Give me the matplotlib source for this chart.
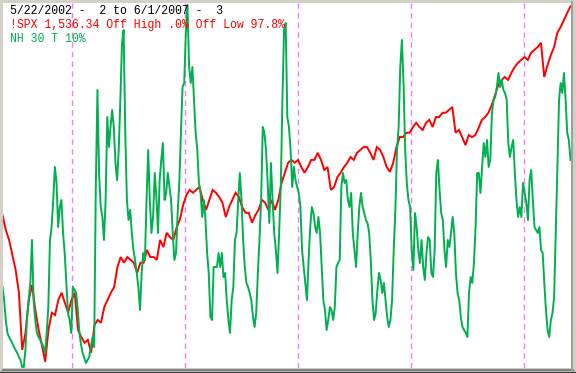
import matplotlib
matplotlib.use("Agg")
import matplotlib.pyplot as plt
import pandas as pd
from matplotlib.lines import Line2D

# ---- data ----
start_date = "2002-05-22"
end_date = "2007-06-01"
year_marks = ["2003-01-01", "2004-01-01", "2005-01-01", "2006-01-01", "2007-01-01"]

spx = [
    1098, 1067, 1046, 1014, 983, 935, 815, 851, 920, 951, 899, 857, 825, 790, 857, 893, 888, 920, 935, 914, 893,
    920, 935, 857, 842, 830, 836, 809, 867, 878, 872, 905, 920, 935, 947, 989, 1010, 998, 1010, 1004, 998, 977, 998,
    998, 1025, 1010, 1010, 1004, 1046, 1031, 1061, 1052, 1046, 1071, 1088, 1119, 1140, 1151, 1145, 1151, 1157, 1130, 1109, 1130, 1151,
    1145, 1136, 1124, 1094, 1115, 1130, 1145, 1136, 1115, 1103, 1103, 1082, 1098, 1109, 1130, 1124, 1109, 1130, 1109, 1130, 1166, 1187,
    1208, 1214, 1208, 1214, 1199, 1187, 1199, 1214, 1214, 1229, 1214, 1193, 1199, 1151, 1157, 1178, 1187, 1199, 1208, 1220, 1214, 1229,
    1235, 1241, 1241, 1229, 1214, 1241, 1235, 1220, 1199, 1189, 1208, 1241, 1262, 1262, 1271, 1271, 1283, 1292, 1283, 1277, 1292, 1298,
    1283, 1304, 1304, 1313, 1313, 1319, 1325, 1271, 1277, 1262, 1245, 1266, 1262, 1266, 1281, 1298, 1304, 1313, 1329, 1350, 1371, 1382,
    1388, 1382, 1397, 1409, 1418, 1424, 1430, 1424, 1439, 1445, 1451, 1460, 1388, 1413, 1434, 1451, 1481, 1493, 1508, 1523, 1536.34,
]

nh = [
    81, 68, 48, 35, 31, 28, 25, 21, 18, 15, 11, 8, 1, 1, 18, 51, 68, 85, 128, 68, 48, 35, 31, 28, 25, 21, 15, 35, 61, 128,
    141, 168, 201, 185, 141, 161, 168, 135, 115, 85, 55, 48, 35,
    81, 78, 75, 58, 35, 23, 15, 10, 5, 8, 11, 21, 31, 21, 181, 278, 195, 161, 151, 128, 168, 251, 221, 241, 258, 241, 205, 188,
    218, 268, 325, 338, 235, 168, 148, 158, 135, 118, 108, 95, 81, 58, 95, 115,
    108, 168, 218, 168, 135, 151, 195, 171, 135, 188, 208, 225, 168, 175, 195, 181, 168, 135, 108, 115, 155, 185, 235, 281, 285, 335,
    363, 301, 285, 301, 268, 235, 218, 185, 175, 151, 168, 148, 115, 95, 51, 48, 101, 101,
    101, 115, 101, 115, 91, 95, 68, 48, 35, 68, 81, 128, 135, 168, 195, 168, 128, 101, 85, 81, 75, 68, 51, 41, 55, 95, 128, 168,
    241, 235, 218, 185, 145, 205, 168, 135, 118, 95, 135, 181, 268, 338, 345, 251,
    241, 218, 181, 201, 188, 181, 175, 161, 118, 101, 85, 68, 108, 141, 161, 155, 141, 135, 151, 135, 101, 68, 58, 38, 48, 61, 58, 48,
    61, 101, 105, 108, 181, 195, 185, 188, 168, 161, 175, 135, 118, 101, 135, 161,
    175, 161, 155, 148, 145, 135, 108, 68, 48, 55, 78, 95, 88, 75, 85, 68, 51, 41, 48, 68, 118, 158, 218, 241, 301, 328, 285, 218,
    185, 168, 161, 118, 98, 155, 141, 118, 105, 128, 101, 88, 115, 131, 128, 95,
    91, 118, 195, 208, 178, 155, 148, 118, 101, 128, 121, 135, 151, 135, 95, 75, 68, 51, 41, 38, 35, 31, 75, 91, 85, 105, 141, 195,
    195, 175, 201, 225, 211, 228, 201, 208, 255, 268, 271, 281, 295, 281, 288, 278,
    275, 268, 225, 211, 221, 228, 195, 168, 151, 161, 151, 185, 175, 165, 148, 188, 198, 168, 141, 138, 135, 141, 118, 115, 85, 58,
    38, 31, 48, 55, 71, 135, 201, 268, 285, 275, 295, 268, 235, 228, 208,
]

title_line = "5/22/2002 -  2 to 6/1/2007 -  3"
spx_line = "!SPX 1,536.34 Off High .0% Off Low 97.8%"
nh_line = "NH 30 T 10%"

# ---- figure ----
W, H = 576, 373
fig = plt.figure(figsize=(W / 100, H / 100), dpi=100, facecolor="#d4d0c8")

x0, x1 = 2.5, 570.5
ytop, ybot = 3, 368
ax = fig.add_axes([x0 / W, (H - ybot) / H, (x1 - x0) / W, (ybot - ytop) / H])
ax.set_facecolor("white")
for s in ax.spines.values():
    s.set_visible(False)
ax.set_xticks([])
ax.set_yticks([])

spx_dates = pd.date_range(start_date, end_date, periods=len(spx))
nh_dates = pd.date_range(start_date, end_date, periods=len(nh))

for d in year_marks:
    ax.axvline(pd.Timestamp(d), color="#f27ff2", lw=1.0, ls=(0, (4, 3)), zorder=1)

ax.plot(spx_dates, spx, color="#ff0000", lw=1.4, zorder=3, solid_joinstyle="miter")
ax.set_ylim(777, 1543.5)
ax.set_xlim(pd.Timestamp(start_date), pd.Timestamp(end_date))

ax2 = ax.twinx()
for s in ax2.spines.values():
    s.set_visible(False)
ax2.set_yticks([])
ax2.plot(nh_dates, nh, color="#00b050", lw=1.4, zorder=4)
ax2.set_ylim(0, 365)
ax2.set_xlim(pd.Timestamp(start_date), pd.Timestamp(end_date))

# frame edges
fig.add_artist(Line2D([x0 / W, 573 / W], [(H - 369.5) / H] * 2, color="#808080", lw=1.5))
fig.add_artist(Line2D([571.5 / W] * 2, [(H - 370) / H, (H - 2) / H], color="#a0a0a0", lw=1.5))
fig.add_artist(Line2D([0, 1], [(H - 371.5) / H] * 2, color="#404040", lw=1.0))

font = dict(family=["Liberation Mono", "DejaVu Sans Mono"], fontsize=8.3)
fig.text(10 / W, (H - 13.5) / H, title_line, color="black", va="baseline", ha="left", **font)
fig.text(10 / W, (H - 28) / H, spx_line, color="#ff0000", va="baseline", ha="left", **font)
fig.text(10 / W, (H - 42.5) / H, nh_line, color="#00b050", va="baseline", ha="left", **font)

fig.savefig("out.png", dpi=100, facecolor=fig.get_facecolor())
